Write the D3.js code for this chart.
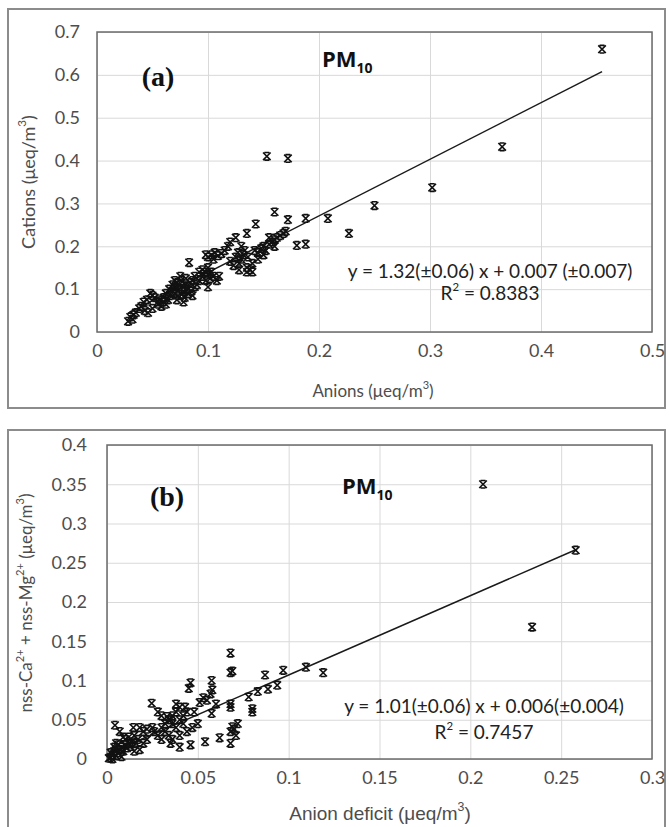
<!DOCTYPE html>
<html><head><meta charset="utf-8">
<script src="https://cdn.jsdelivr.net/npm/d3@7"></script>
<style>body{margin:0;background:#fff}svg{display:block}</style>
</head><body>
<svg id="c" width="670" height="827"></svg>
<script>
// ---------- DATA ----------
const ticksAx = [0, 0.1, 0.2, 0.3, 0.4, 0.5];
const ticksAy = [0, 0.1, 0.2, 0.3, 0.4, 0.5, 0.6, 0.7];
const ticksBx = [0, 0.05, 0.1, 0.15, 0.2, 0.25, 0.3];
const ticksBy = [0, 0.05, 0.1, 0.15, 0.2, 0.25, 0.3, 0.35, 0.4];
const fitA = [1.32, 0.007, 0.028, 0.455]; // slope, intercept, xStart, xEnd
const fitB = [1.01, 0.006, 0.001, 0.258];
const pointsA = [
 [0.455,0.66],[0.365,0.432],[0.302,0.337],[0.25,0.295],[0.227,0.23],[0.208,0.265],
 [0.153,0.41],[0.172,0.405],[0.16,0.28],[0.172,0.262],[0.188,0.265],[0.18,0.202],[0.188,0.205],
 [0.143,0.252],[0.135,0.23],[0.125,0.22],[0.083,0.162],[0.1,0.105],
 [0.13,0.17],[0.132,0.18],[0.128,0.16],[0.135,0.15],[0.138,0.145],[0.14,0.16],[0.133,0.19],[0.13,0.2],
 [0.127,0.185],[0.136,0.175],[0.142,0.19],[0.145,0.185],[0.148,0.195],[0.15,0.2],[0.152,0.19],[0.155,0.205],
 [0.158,0.21],[0.16,0.2],[0.162,0.22],[0.165,0.225],[0.168,0.23],[0.17,0.235],[0.16,0.215],[0.155,0.22],
 [0.15,0.18],[0.145,0.17],[0.14,0.14],[0.135,0.14],[0.125,0.175],[0.12,0.165],[0.123,0.155],[0.128,0.145],
 [0.1,0.175],[0.103,0.18],[0.106,0.185],[0.109,0.178],[0.112,0.183],[0.115,0.19],[0.105,0.17],[0.098,0.18],
 [0.118,0.2],[0.12,0.21],
 [0.095,0.13],[0.098,0.14],[0.1,0.135],[0.102,0.125],[0.105,0.13],[0.108,0.12],[0.1,0.15],[0.095,0.145],
 [0.11,0.13],[0.103,0.14],[0.098,0.12],[0.092,0.14],
 [0.065,0.1],[0.068,0.11],[0.07,0.105],[0.072,0.115],[0.074,0.1],[0.076,0.12],[0.078,0.095],[0.08,0.11],
 [0.082,0.1],[0.084,0.115],[0.086,0.12],[0.088,0.105],[0.07,0.09],[0.073,0.085],[0.076,0.088],[0.079,0.08],
 [0.082,0.09],[0.085,0.095],[0.09,0.11],[0.092,0.12],[0.075,0.13],[0.08,0.125],[0.068,0.095],[0.066,0.085],
 [0.072,0.075],[0.078,0.07],[0.086,0.085],[0.088,0.13],[0.062,0.09],[0.07,0.12],[0.074,0.11],[0.08,0.1],
 [0.048,0.09],[0.05,0.085],[0.045,0.075],[0.042,0.07],[0.04,0.06],[0.043,0.05],[0.046,0.045],[0.05,0.055],
 [0.055,0.065],[0.058,0.06],[0.06,0.07],[0.056,0.075],[0.052,0.08],[0.062,0.065],[0.038,0.055],[0.035,0.045],
 [0.06,0.08],[0.064,0.075],[0.055,0.07],[0.033,0.04],
 [0.028,0.025],[0.03,0.035],[0.032,0.03]
];
const pointsB = [
 [0.207,0.35],[0.258,0.266],[0.234,0.168],[0.119,0.11],[0.1095,0.117],[0.097,0.113],[0.087,0.107],
 [0.068,0.135],[0.068,0.11],[0.069,0.112],
 [0.078,0.079],[0.083,0.086],[0.0886,0.089],[0.0937,0.094],[0.08,0.06],[0.08,0.064],[0.068,0.066],[0.068,0.07],
 [0.0576,0.1],[0.058,0.088],[0.057,0.083],[0.046,0.097],[0.045,0.09],[0.055,0.075],[0.053,0.078],[0.0576,0.058],
 [0.051,0.072],[0.062,0.027],[0.054,0.022],[0.069,0.041],[0.068,0.035],[0.07,0.038],[0.072,0.045],[0.068,0.02],
 [0.071,0.03],[0.06,0.07],[0.048,0.06],[0.05,0.045],[0.046,0.018],[0.047,0.04],
 [0.0246,0.071],[0.028,0.06],[0.03,0.055],[0.033,0.054],[0.035,0.05],[0.036,0.045],[0.038,0.04],[0.04,0.05],
 [0.042,0.055],[0.043,0.066],[0.044,0.06],[0.04,0.066],[0.038,0.07],[0.03,0.04],[0.032,0.035],[0.034,0.03],
 [0.036,0.025],[0.028,0.03],[0.026,0.035],[0.03,0.025],[0.035,0.02],[0.04,0.015],[0.04,0.03],[0.044,0.035],
 [0.042,0.045],[0.032,0.045],[0.034,0.05],[0.036,0.055],[0.038,0.06],[0.025,0.04],[0.022,0.038],[0.02,0.035],
 [0.018,0.04],[0.015,0.03],
 [0.0044,0.043],[0.0145,0.04],[0.007,0.035],[0.002,0.002],[0.003,0.005],[0.004,0.01],[0.005,0.004],[0.006,0.008],
 [0.007,0.012],[0.008,0.015],[0.009,0.01],[0.01,0.018],[0.011,0.014],[0.012,0.02],[0.013,0.016],[0.014,0.022],
 [0.006,0.018],[0.004,0.015],[0.002,0.008],[0.01,0.025],[0.012,0.028],[0.016,0.02],[0.018,0.012],[0.008,0.003],
 [0.001,0.001],[0.003,0.0],[0.005,0.02],[0.009,0.028],[0.017,0.025],[0.02,0.02],[0.022,0.025],[0.015,0.01]
];

// ---------- DRAW ----------
const svg = d3.select("#c");
const sansC = "Lato, 'Open Sans', sans-serif";
const gray = "#4d4d4d";

function drawPanel(o) {
  const g = svg.append("g");
  g.append("rect").attr("x", o.frame[0]).attr("y", o.frame[1]).attr("width", o.frame[2]).attr("height", o.frame[3])
    .attr("fill", "none").attr("stroke", "#8c8c8c").attr("stroke-width", 2);
  const x = d3.scaleLinear().domain(o.xdom).range([o.L, o.R]);
  const y = d3.scaleLinear().domain(o.ydom).range([o.B, o.T]);
  g.append("g").attr("transform", `translate(0,${o.B})`)
    .call(d3.axisBottom(x).tickValues(o.xt).tickSize(-(o.B - o.T)).tickFormat(""))
    .call(s => { s.select(".domain").remove(); s.selectAll("line").attr("stroke", "#d9d9d9"); });
  g.append("g").attr("transform", `translate(${o.L},0)`)
    .call(d3.axisLeft(y).tickValues(o.yt).tickSize(-(o.R - o.L)).tickFormat(""))
    .call(s => { s.select(".domain").remove(); s.selectAll("line").attr("stroke", "#d9d9d9"); });
  g.append("g").attr("transform", `translate(0,${o.B})`)
    .call(d3.axisBottom(x).tickValues(o.xt).tickSize(0).tickPadding(o.xpad).tickFormat(d3.format("")))
    .call(s => { s.select(".domain").remove(); s.selectAll("text").attr("font-family", sansC).attr("font-size", o.tfs).attr("fill", gray); });
  g.append("g").attr("transform", `translate(${o.L},0)`)
    .call(d3.axisLeft(y).tickValues(o.yt).tickSize(0).tickPadding(o.ypad).tickFormat(d3.format("")))
    .call(s => { s.select(".domain").remove(); s.selectAll("text").attr("font-family", sansC).attr("font-size", o.tfs).attr("fill", gray); });
  g.append("rect").attr("x", o.L).attr("y", o.T).attr("width", o.R - o.L).attr("height", o.B - o.T)
    .attr("fill", "none").attr("stroke", "#6b6b6b").attr("stroke-width", 1.5);
  const f = o.fit;
  g.append("line").attr("x1", x(f[2])).attr("y1", y(f[0] * f[2] + f[1]))
    .attr("x2", x(f[3])).attr("y2", y(f[0] * f[3] + f[1]))
    .attr("stroke", "#1a1a1a").attr("stroke-width", 1.5);
  const s = 3.8;
  const mk = `M${-s},${-s}L${s},${s}M${-s},${s}L${s},${-s}M${-s*0.65},${-s}L${s*0.65},${-s}M${-s*0.65},${s}L${s*0.65},${s}`;
  g.append("g").selectAll("path").data(o.pts).join("path")
    .attr("transform", d => `translate(${x(d[0])},${y(d[1])})`)
    .attr("d", mk).attr("fill", "none").attr("stroke", "#111").attr("stroke-width", 1.6);
  const yt = g.append("text").attr("transform", `translate(${o.ytitle[0]},${o.ytitle[1]}) rotate(-90)`)
    .attr("text-anchor", "middle").attr("dominant-baseline", "middle")
    .attr("font-family", o.titleFont).attr("font-size", o.yfs).attr("fill", gray);
  o.ylabel.forEach(p => yt.append("tspan").attr("baseline-shift", p[1] ? "super" : null)
      .attr("font-size", p[1] ? o.yfs * 0.65 : null).text(p[0]));
  const xt = g.append("text").attr("x", o.xtitle[0]).attr("y", o.xtitle[1])
    .attr("text-anchor", "middle").attr("dominant-baseline", "middle")
    .attr("font-family", o.xtitleFont).attr("font-size", o.xfs).attr("fill", gray);
  o.xlabel.forEach(p => xt.append("tspan").attr("baseline-shift", p[1] ? "super" : null)
      .attr("font-size", p[1] ? o.xfs * 0.65 : null).text(p[0]));
  g.append("text").attr("x", o.letter[0]).attr("y", o.letter[1]).attr("text-anchor", "middle")
    .attr("dominant-baseline", "middle").attr("font-family", "'Liberation Serif', 'DejaVu Serif', serif")
    .attr("font-weight", "bold").attr("font-size", 28).attr("fill", "#111").text(o.letter[2]);
  const pm = g.append("text").attr("x", o.pm[0]).attr("y", o.pm[1]).attr("font-family", "'Open Sans', sans-serif")
    .attr("font-weight", "bold").attr("font-size", 22).attr("fill", "#111");
  pm.append("tspan").text("PM");
  pm.append("tspan").attr("font-size", 14).attr("dy", 6).text("10");
  g.append("text").attr("x", o.eq[0]).attr("y", o.eq[1]).attr("text-anchor", "middle").attr("dominant-baseline", "middle")
    .attr("font-family", sansC).attr("font-size", o.efs).attr("fill", "#222").text(o.eqText);
  const r = g.append("text").attr("x", o.eq[0]).attr("y", o.eq[2]).attr("text-anchor", "middle").attr("dominant-baseline", "middle")
    .attr("font-family", sansC).attr("font-size", o.efs).attr("fill", "#222");
  r.append("tspan").text("R");
  r.append("tspan").attr("baseline-shift", "super").attr("font-size", o.efs * 0.6).text("2");
  r.append("tspan").text(" = " + o.r2);
}

drawPanel({
  frame: [8, 9, 657, 399], L: 97, R: 652, T: 32, B: 332,
  xdom: [0, 0.5], ydom: [0, 0.7], xt: ticksAx, yt: ticksAy, pts: pointsA, fit: fitA,
  tfs: 18, xpad: 12, ypad: 17,
  ytitle: [30, 182], ylabel: [["Cations (μeq/m"], ["3", true], [")"]], yfs: 18, titleFont: sansC,
  xtitle: [373, 393], xlabel: [["Anions (μeq/m"], ["3", true], [")"]], xfs: 17, xtitleFont: sansC,
  letter: [158, 80, "(a)"], pm: [322, 67],
  eq: [490, 273, 295], efs: 19, eqText: "y = 1.32(±0.06) x + 0.007 (±0.007)", r2: "0.8383"
});
drawPanel({
  frame: [8, 430, 657, 400], L: 107, R: 652, T: 445, B: 759,
  xdom: [0, 0.3], ydom: [0, 0.4], xt: ticksBx, yt: ticksBy, pts: pointsB, fit: fitB,
  tfs: 18, xpad: 12, ypad: 20,
  ytitle: [28, 603], ylabel: [["nss-Ca"], ["2+", true], [" + nss-Mg"], ["2+", true], [" (μeq/m"], ["3", true], [")"]], yfs: 17, titleFont: sansC,
  xtitle: [380, 815], xlabel: [["Anion deficit (μeq/m"], ["3", true], [")"]], xfs: 19, xtitleFont: "'Liberation Sans', Arial, sans-serif",
  letter: [167, 500, "(b)"], pm: [342, 494],
  eq: [484, 708, 734], efs: 19, eqText: "y = 1.01(±0.06) x + 0.006(±0.004)", r2: "0.7457"
});
</script>
</body></html>
